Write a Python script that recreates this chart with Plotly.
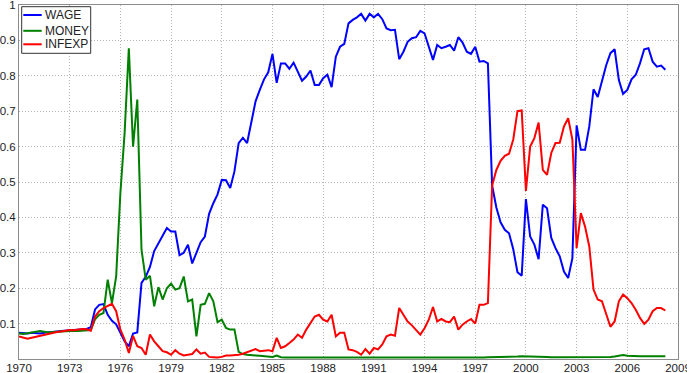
import plotly.graph_objects as go

# Quarterly observations 1970Q1 .. 2008Q2
start_year = 1970
n_quarters = 154
dates = [start_year + 0.25 * i for i in range(n_quarters)]

series_names = ["WAGE", "MONEY", "INFEXP"]
series_colors = ["#0000FF", "#008000", "#FF0000"]

wage = [
    0.074, 0.072, 0.072, 0.074,  # 1970
    0.073, 0.072, 0.074, 0.076,  # 1971
    0.077, 0.078, 0.079, 0.080,  # 1972
    0.081, 0.082, 0.083, 0.084,  # 1973
    0.085, 0.090, 0.140, 0.153,  # 1974
    0.155, 0.125, 0.108, 0.098,  # 1975
    0.074, 0.050, 0.036, 0.072,  # 1976
    0.075, 0.215, 0.232, 0.260,  # 1977
    0.305, 0.328, 0.350, 0.370,  # 1978
    0.360, 0.360, 0.293, 0.300,  # 1979
    0.323, 0.270, 0.300, 0.330,  # 1980
    0.346, 0.410, 0.440, 0.465,  # 1981
    0.506, 0.505, 0.483, 0.530,  # 1982
    0.610, 0.625, 0.610, 0.670,  # 1983
    0.728, 0.760, 0.790, 0.810,  # 1984
    0.862, 0.780, 0.835, 0.835,  # 1985
    0.820, 0.837, 0.812, 0.786,  # 1986
    0.798, 0.815, 0.774, 0.774,  # 1987
    0.793, 0.803, 0.768, 0.854,  # 1988
    0.882, 0.890, 0.948, 0.958,  # 1989
    0.965, 0.975, 0.956, 0.975,  # 1990
    0.965, 0.975, 0.960, 0.934,  # 1991
    0.929, 0.930, 0.847, 0.868,  # 1992
    0.896, 0.906, 0.909, 0.927,  # 1993
    0.920, 0.882, 0.845, 0.887,  # 1994
    0.878, 0.882, 0.887, 0.871,  # 1995
    0.909, 0.894, 0.868, 0.862,  # 1996
    0.882, 0.840, 0.842, 0.835,  # 1997
    0.490, 0.428, 0.386, 0.365,  # 1998
    0.355, 0.310, 0.245, 0.235,  # 1999
    0.452, 0.346, 0.323, 0.282,  # 2000
    0.436, 0.426, 0.342, 0.313,  # 2001
    0.290, 0.247, 0.229, 0.285,  # 2002
    0.660, 0.591, 0.591, 0.657,  # 2003
    0.762, 0.740, 0.785, 0.830,  # 2004
    0.864, 0.875, 0.788, 0.749,  # 2005
    0.760, 0.790, 0.803, 0.835,  # 2006
    0.875, 0.878, 0.840, 0.826,  # 2007
    0.829, 0.817,                # 2008
]

money = [
    0.072, 0.071, 0.073, 0.074,  # 1970
    0.077, 0.079, 0.076, 0.075,  # 1971
    0.076, 0.077, 0.078, 0.079,  # 1972
    0.080, 0.080, 0.079, 0.080,  # 1973
    0.080, 0.082, 0.112, 0.125,  # 1974
    0.130, 0.224, 0.158, 0.233,  # 1975
    0.469, 0.638, 0.878, 0.600,  # 1976
    0.733, 0.309, 0.224, 0.235,  # 1977
    0.149, 0.203, 0.168, 0.200,  # 1978
    0.213, 0.196, 0.200, 0.233,  # 1979
    0.163, 0.168, 0.064, 0.153,  # 1980
    0.156, 0.186, 0.163, 0.104,  # 1981
    0.111, 0.088, 0.083, 0.083,  # 1982
    0.020, 0.014, 0.012, 0.012,  # 1983
    0.010, 0.009, 0.008, 0.006,  # 1984
    0.006, 0.010, 0.005, 0.004,  # 1985
    0.004, 0.004, 0.003, 0.003,  # 1986
    0.003, 0.003, 0.004, 0.003,  # 1987
    0.003, 0.002, 0.003, 0.003,  # 1988
    0.003, 0.003, 0.002, 0.002,  # 1989
    0.002, 0.003, 0.003, 0.002,  # 1990
    0.002, 0.002, 0.003, 0.003,  # 1991
    0.003, 0.002, 0.002, 0.002,  # 1992
    0.002, 0.002, 0.003, 0.003,  # 1993
    0.003, 0.003, 0.002, 0.002,  # 1994
    0.002, 0.003, 0.003, 0.003,  # 1995
    0.003, 0.004, 0.004, 0.003,  # 1996
    0.003, 0.004, 0.004, 0.005,  # 1997
    0.005, 0.005, 0.006, 0.006,  # 1998
    0.006, 0.007, 0.007, 0.008,  # 1999
    0.008, 0.007, 0.006, 0.006,  # 2000
    0.007, 0.006, 0.005, 0.005,  # 2001
    0.005, 0.004, 0.004, 0.005,  # 2002
    0.004, 0.005, 0.004, 0.004,  # 2003
    0.005, 0.006, 0.005, 0.006,  # 2004
    0.006, 0.007, 0.010, 0.011,  # 2005
    0.009, 0.008, 0.008, 0.008,  # 2006
    0.008, 0.008, 0.008, 0.008,  # 2007
    0.008, 0.008,                # 2008
]

infexp = [
    0.064, 0.060, 0.057, 0.060,  # 1970
    0.063, 0.066, 0.068, 0.072,  # 1971
    0.074, 0.076, 0.078, 0.080,  # 1972
    0.082, 0.081, 0.083, 0.085,  # 1973
    0.084, 0.080, 0.120, 0.135,  # 1974
    0.144, 0.150, 0.156, 0.135,  # 1975
    0.083, 0.055, 0.017, 0.065,  # 1976
    0.036, 0.031, 0.012, 0.069,  # 1977
    0.050, 0.036, 0.022, 0.019,  # 1978
    0.012, 0.025, 0.015, 0.010,  # 1979
    0.012, 0.014, 0.027, 0.015,  # 1980
    0.018, 0.006, 0.005, 0.004,  # 1981
    0.006, 0.010, 0.010, 0.010,  # 1982
    0.012, 0.015, 0.019, 0.022,  # 1983
    0.028, 0.022, 0.024, 0.025,  # 1984
    0.022, 0.060, 0.031, 0.036,  # 1985
    0.045, 0.055, 0.069, 0.060,  # 1986
    0.083, 0.100, 0.120, 0.125,  # 1987
    0.111, 0.106, 0.125, 0.064,  # 1988
    0.074, 0.074, 0.027, 0.025,  # 1989
    0.020, 0.012, 0.028, 0.015,  # 1990
    0.031, 0.027, 0.041, 0.064,  # 1991
    0.069, 0.066, 0.144, 0.125,  # 1992
    0.106, 0.095, 0.083, 0.069,  # 1993
    0.087, 0.111, 0.147, 0.106,  # 1994
    0.113, 0.106, 0.104, 0.120,  # 1995
    0.083, 0.097, 0.106, 0.113,  # 1996
    0.100, 0.153, 0.153, 0.158,  # 1997
    0.490, 0.534, 0.560, 0.574,  # 1998
    0.580, 0.620, 0.700, 0.702,  # 1999
    0.475, 0.600, 0.624, 0.668,  # 2000
    0.534, 0.520, 0.582, 0.610,  # 2001
    0.611, 0.657, 0.680, 0.620,  # 2002
    0.313, 0.412, 0.374, 0.318,  # 2003
    0.196, 0.168, 0.163, 0.130,  # 2004
    0.091, 0.106, 0.163, 0.182,  # 2005
    0.172, 0.158, 0.139, 0.116,  # 2006
    0.099, 0.111, 0.135, 0.144,  # 2007
    0.144, 0.137,                # 2008
]

x_ticks = list(range(1970, 2010, 3))
x_tick_labels = [str(v) for v in x_ticks]
y_ticks = [0.1, 0.2, 0.3, 0.4, 0.5, 0.6, 0.7, 0.8, 0.9, 1.0]
y_tick_labels = ["0.1", "0.2", "0.3", "0.4", "0.5", "0.6", "0.7", "0.8", "0.9", "1"]

FONT = "Liberation Sans, Arial, sans-serif"

fig = go.Figure()
for name, color, vals in zip(series_names, series_colors, [wage, money, infexp]):
    fig.add_trace(go.Scatter(
        x=dates, y=vals, mode="lines", name=name, showlegend=False,
        line=dict(color=color, width=2),
    ))

axis_common = dict(
    showgrid=True, gridcolor="#b4b4b4", gridwidth=1, griddash="1px,2px",
    showline=True, linecolor="#8c8c8c", linewidth=1, mirror=True,
    zeroline=False, ticks="", automargin=False, ticklabeloverflow="allow",
    tickfont=dict(family=FONT, size=11.5, color="#222222"),
)

# Legend box drawn in plot-area (domain) fractions, MATLAB style
W_PLOT, H_PLOT = 659.0, 354.0
def fx(px):
    return px / W_PLOT
def fy(py):
    return 1 - py / H_PLOT

shapes = [dict(type="rect", xref="x domain", yref="y domain",
               x0=fx(2.7), x1=fx(71.7), y0=fy(1.7), y1=fy(48.3),
               line=dict(color="#333333", width=1), fillcolor="white", layer="above")]
annotations = []
row_offsets = [10.0, 25.8, 39.3]
for name, color, dy in zip(series_names, series_colors, row_offsets):
    shapes.append(dict(type="line", xref="x domain", yref="y domain",
                       x0=fx(4.3), x1=fx(22.7), y0=fy(dy), y1=fy(dy),
                       line=dict(color=color, width=2), layer="above"))
    annotations.append(dict(xref="x domain", yref="y domain", x=fx(24.0), y=fy(dy),
                            text=name, showarrow=False, xanchor="left", yanchor="middle",
                            font=dict(family=FONT, size=12, color="#222222")))

fig.update_layout(
    width=687, height=373,
    margin=dict(l=19, r=9, t=5, b=14, pad=0),
    paper_bgcolor="white", plot_bgcolor="white",
    font=dict(family=FONT, size=11.5, color="#222222"),
    xaxis=dict(range=[1970, 2009], tickvals=x_ticks, ticktext=x_tick_labels,
               ticklabelstandoff=-2, **axis_common),
    yaxis=dict(range=[0, 1], tickvals=y_ticks, ticktext=y_tick_labels, **axis_common),
    shapes=shapes,
    annotations=annotations,
    showlegend=False,
)

fig.write_html("out.html")
